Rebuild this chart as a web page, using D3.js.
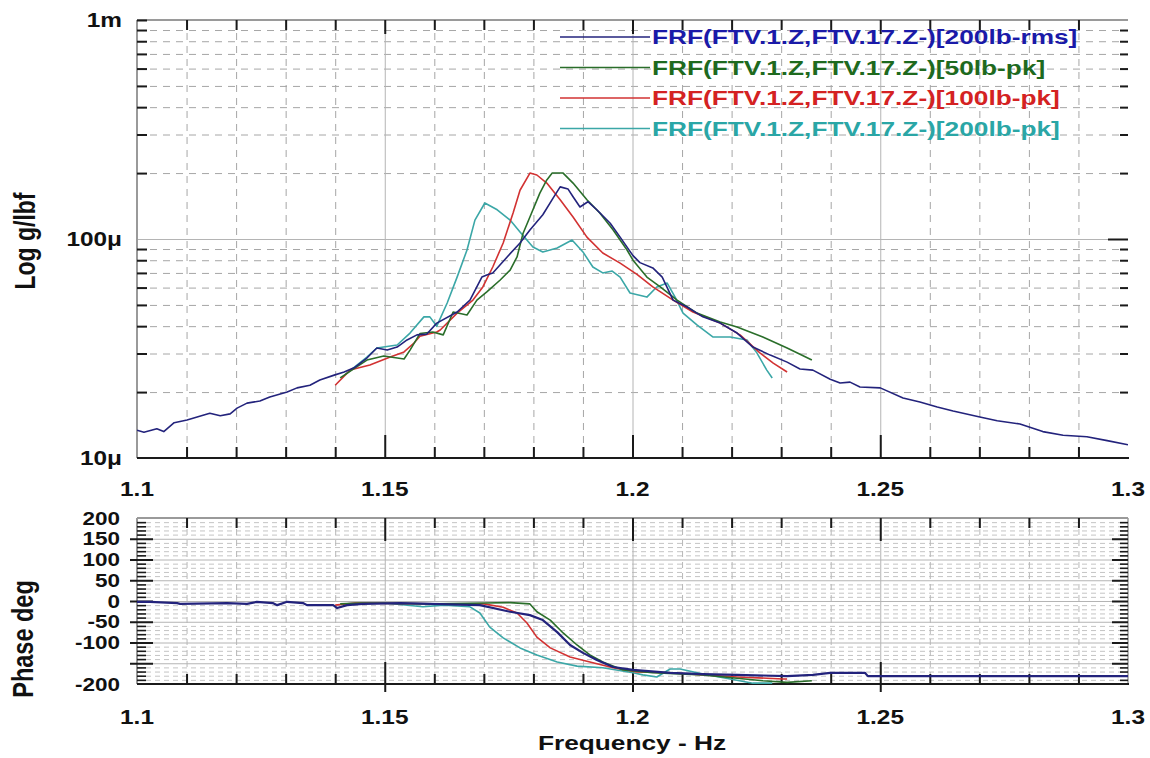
<!DOCTYPE html>
<html>
<head>
<meta charset="utf-8">
<script src="https://cdn.jsdelivr.net/npm/d3@7"></script>
<style>
  body { margin: 0; background: #fff; }
  svg { display: block; }
  text { font-family: "Liberation Sans", Arial, sans-serif; font-weight: bold; fill: #111; }
</style>
</head>
<body>
<svg id="chart" width="1150" height="758"></svg>
<script>
// ---- Series labels and colours ----
const seriesNames = [
  "FRF(FTV.1.Z,FTV.17.Z-)[200lb-rms]",
  "FRF(FTV.1.Z,FTV.17.Z-)[50lb-pk]",
  "FRF(FTV.1.Z,FTV.17.Z-)[100lb-pk]",
  "FRF(FTV.1.Z,FTV.17.Z-)[200lb-pk]"
];
const lineColors = ["#23237c", "#2a6e2a", "#d23232", "#3ba7a7"];
const textColors = ["#1a1aa8", "#1e6a1e", "#d42222", "#2aa6a6"];

// ---- Axis ticks ----
const freqTickValues = [1.1, 1.15, 1.2, 1.25, 1.3];
const freqTickLabels = ["1.1", "1.15", "1.2", "1.25", "1.3"];
const magTickValues = [10, 100, 1000];           // micro g/lbf
const magTickLabels = ["10\u03bc", "100\u03bc", "1m"];
const phaseTickValues = [200, 150, 100, 50, 0, -50, -100, -200];

// ---- Magnitude (micro g/lbf) ----
const magFreqRms200 = [1.1000,1.1014,1.1040,1.1054,1.1075,1.1101,1.1135,1.1147,1.1168,1.1188,1.1202,1.1222,1.1248,1.1268,1.1303,1.1323,1.1349,1.1369,1.1398,1.1418,1.1438,1.1464,1.1484,1.1505,1.1525,1.1545,1.1565,1.1585,1.1605,1.1646,1.1672,1.1696,1.1706,1.1718,1.1747,1.1773,1.1793,1.1819,1.1840,1.1854,1.1870,1.1880,1.1894,1.1910,1.1928,1.1955,1.1975,1.2001,1.2015,1.2041,1.2060,1.2082,1.2110,1.2142,1.2177,1.2211,1.2243,1.2278,1.2312,1.2338,1.2364,1.2399,1.2419,1.2439,1.2459,1.2500,1.2546,1.2580,1.2615,1.2647,1.2701,1.2736,1.2782,1.2828,1.2869,1.2917,1.2958,1.3000];
const magRms200 = [13.4,13.1,13.6,13.2,14.5,14.9,15.7,16.0,15.6,15.9,16.9,17.8,18.2,19.0,20.0,20.9,21.5,22.7,23.9,24.7,25.8,28.6,31.8,31.1,32.1,34.6,36.5,36.8,41.3,46.4,52.6,67.0,68.5,70.0,82.8,95.9,110,129,154,173,169,156,140,148,136,118,102,84,78,73.8,67.0,52.6,48.9,44.1,41.3,37.2,32.1,29.5,27.4,25.5,25.2,22.9,22.0,22.2,21.1,20.9,18.8,18.0,17.1,16.4,15.4,14.8,14.3,13.2,12.7,12.5,12.0,11.5];

const magFreqPk50 = [1.1410,1.1464,1.1498,1.1539,1.1551,1.1571,1.1597,1.1618,1.1638,1.1666,1.1686,1.1706,1.1733,1.1753,1.1767,1.1779,1.1793,1.1813,1.1827,1.1838,1.1860,1.1880,1.1908,1.1934,1.1961,1.1989,1.2001,1.2029,1.2056,1.2090,1.2130,1.2177,1.2211,1.2263,1.2312,1.2362];
const magPk50 = [23.2,28.0,29.2,28.3,31.1,37.0,37.6,36.5,46.4,45.0,52.6,57.3,65.0,72.1,82.8,106,126,162,186,200,200,180,151,131.5,110,89.1,80,67.0,60.4,52.6,45.9,41.8,39.6,35.7,31.8,28.0];

const magFreqPk100 = [1.1400,1.1430,1.1470,1.1511,1.1539,1.1559,1.1571,1.1605,1.1612,1.1646,1.1678,1.1698,1.1718,1.1739,1.1759,1.1773,1.1793,1.1807,1.1827,1.1854,1.1880,1.1908,1.1940,1.1975,1.2009,1.2041,1.2082,1.2122,1.2177,1.2217,1.2257,1.2284,1.2312];
const magPk100 = [21.5,25.2,26.6,28.9,30.5,33.5,36.0,37.6,38.4,45.9,52.6,60.4,74.5,95.9,131.5,167,200,196,180,151,126,102,86.3,77.6,69,60.4,52.6,46.4,41.3,36.5,30.2,27.1,24.7];

const magFreqPk200 = [1.1420,1.1464,1.1484,1.1525,1.1551,1.1579,1.1591,1.1605,1.1626,1.1646,1.1666,1.1682,1.1702,1.1727,1.1753,1.1773,1.1799,1.1819,1.1848,1.1878,1.1900,1.1920,1.1940,1.1959,1.1975,1.1995,1.2029,1.2049,1.2070,1.2086,1.2102,1.2130,1.2162,1.2197,1.2231,1.2251,1.2271,1.2282];
const magPk200 = [24.0,28.9,31.8,32.8,37.2,44.1,44.1,40.0,51.0,67.0,89.1,122,146,136,122,107.6,91.9,87.3,91.0,98.9,87.3,74.5,70.0,71.4,67.0,56.7,54.3,60.4,62.9,54.3,45.9,40.5,35.7,35.7,34.6,30.2,25.2,23.2];

// ---- Phase (deg) ----
const phFreqRms200 = [1.1000,1.1026,1.1081,1.1087,1.1182,1.1222,1.1242,1.1274,1.1283,1.1303,1.1335,1.1343,1.1396,1.1404,1.1424,1.1456,1.1531,1.1692,1.1753,1.1793,1.1819,1.1848,1.1874,1.1900,1.1928,1.1961,1.2001,1.2076,1.2142,1.2211,1.2312,1.2364,1.2399,1.2469,1.2475,1.3000];
const phRms200 = [-2,-2,-5,-7,-5,-7,-2,-5,-10,-2,-5,-10,-10,-17,-10,-7,-5,-10,-26,-34,-46,-75,-106,-125,-142,-159,-166,-173,-176,-178,-181,-178,-173,-173,-181,-181];

const phFreqPk50 = [1.1410,1.1450,1.1600,1.1700,1.1753,1.1793,1.1807,1.1834,1.1860,1.1888,1.1914,1.1940,1.1981,1.2041,1.2142,1.2211,1.2263,1.2312,1.2362];
const phPk50 = [-7,-5,-7,-5,-4,-7,-26,-46,-77,-106,-130,-147,-166,-173,-178,-186,-192,-196,-192];

const phFreqPk100 = [1.1400,1.1440,1.1600,1.1700,1.1739,1.1767,1.1787,1.1807,1.1834,1.1874,1.1914,1.1961,1.2009,1.2076,1.2142,1.2211,1.2304,1.2312];
const phPk100 = [-10,-5,-7,-7,-15,-29,-53,-87,-113,-135,-147,-161,-171,-173,-178,-183,-188,-188];

const phFreqPk200 = [1.1420,1.1500,1.1577,1.1620,1.1672,1.1692,1.1712,1.1739,1.1773,1.1807,1.1848,1.1888,1.1940,1.2001,1.2021,1.2049,1.2076,1.2096,1.2142,1.2197,1.2243,1.2282];
const phPk200 = [-7,-5,-14,-10,-14,-29,-63,-89,-113,-130,-147,-157,-161,-173,-178,-183,-164,-164,-176,-188,-198,-198];

// ---- Layout ----
const svg = d3.select("#chart");
const X0 = 137, X1 = 1128;
const MAG_TOP = 20, MAG_BOT = 458;
const PH_TOP = 518, PH_BOT = 684;
const SX = 1.25; // horizontal text stretch

const x = d3.scaleLinear().domain([1.1, 1.3]).range([X0, X1]);
const yMag = d3.scaleLog().domain([10, 1000]).range([MAG_BOT, MAG_TOP]);
const yPh = d3.scaleLinear().domain([-200, 200]).range([PH_BOT, PH_TOP]);

const freqMinor = d3.range(110, 131).map(i => i / 100).filter(f => Math.round(f * 100) % 5 !== 0);
const magMinor = [1, 2].flatMap(n => d3.range(2, 10).map(k => k * Math.pow(10, n)));
const phMinor = d3.range(-190, 200, 10).filter(v => v % 50 !== 0);
const phMajor = d3.range(-150, 200, 50);
const freqMajorInner = [1.15, 1.2, 1.25];

function gridLines(axis, tx, ty, size, color, dash) {
  const g = svg.append("g").attr("transform", `translate(${tx},${ty})`)
    .call(axis.tickSize(size).tickFormat(""));
  g.select(".domain").remove();
  g.selectAll("line").attr("stroke", color).attr("stroke-width", 1)
    .attr("stroke-dasharray", dash || null);
}
function tickMarks(axis, tx, ty, size, width) {
  const g = svg.append("g").attr("transform", `translate(${tx},${ty})`)
    .call(axis.tickSize(size).tickFormat(""));
  g.select(".domain").remove();
  g.selectAll("line").attr("stroke", "#1a1a1a").attr("stroke-width", width || 2);
}
function stretchedText(x0, y0, str, size, anchor, rotate, color) {
  svg.append("text")
    .attr("transform", `translate(${x0},${y0}) scale(${SX},1)` + (rotate ? " rotate(-90)" : ""))
    .attr("text-anchor", anchor)
    .style("font-size", size + "px")
    .style("fill", color || "#111")
    .text(str);
}

// ---- Magnitude panel grid ----
gridLines(d3.axisBottom(x).tickValues(freqMinor), 0, MAG_TOP, MAG_BOT - MAG_TOP, "#a6a6a6", "7,6");
gridLines(d3.axisRight(yMag).tickValues(magMinor), X0, 0, X1 - X0, "#a6a6a6", "7,6");
gridLines(d3.axisBottom(x).tickValues(freqMajorInner), 0, MAG_TOP, MAG_BOT - MAG_TOP, "#b4b4b4");
gridLines(d3.axisRight(yMag).tickValues([100]), X0, 0, X1 - X0, "#b4b4b4");

// ---- Phase panel grid ----
gridLines(d3.axisRight(yPh).tickValues(phMinor), X0, 0, X1 - X0, "#c4c4c4", "5,4");
gridLines(d3.axisBottom(x).tickValues(freqMinor), 0, PH_TOP, PH_BOT - PH_TOP, "#b8b8b8", "6,5");
gridLines(d3.axisRight(yPh).tickValues(phMajor), X0, 0, X1 - X0, "#b4b4b4");
gridLines(d3.axisBottom(x).tickValues(freqMajorInner), 0, PH_TOP, PH_BOT - PH_TOP, "#b4b4b4");

// ---- Frames ----
function frame(top, bot, rightSpine) {
  svg.append("line").attr("x1", X0).attr("x2", X1).attr("y1", top).attr("y2", top)
    .attr("stroke", "#9a9a9a").attr("stroke-width", 2);
  svg.append("line").attr("x1", X0).attr("x2", X0).attr("y1", top).attr("y2", bot)
    .attr("stroke", "#9a9a9a").attr("stroke-width", 2);
  if (rightSpine) svg.append("line").attr("x1", X1).attr("x2", X1).attr("y1", top).attr("y2", bot)
    .attr("stroke", "#9a9a9a").attr("stroke-width", 1.5);
  svg.append("line").attr("x1", X0).attr("x2", X1 + 1).attr("y1", bot).attr("y2", bot)
    .attr("stroke", "#1a1a1a").attr("stroke-width", 2);
}
frame(MAG_TOP, MAG_BOT, false);
frame(PH_TOP, PH_BOT, true);

// ---- Tick marks: magnitude ----
tickMarks(d3.axisBottom(x).tickValues(freqMinor), 0, MAG_TOP, 10);
tickMarks(d3.axisBottom(x).tickValues(freqMajorInner), 0, MAG_TOP, 14);
tickMarks(d3.axisTop(x).tickValues(freqMinor), 0, MAG_BOT, 11);
tickMarks(d3.axisTop(x).tickValues(freqMajorInner), 0, MAG_BOT, 23);
tickMarks(d3.axisRight(yMag).tickValues(magMinor.concat([1000])), X0, 0, 10);
tickMarks(d3.axisLeft(yMag).tickValues(magMinor), X1, 0, 8);
tickMarks(d3.axisLeft(yMag).tickValues([100]), X1, 0, 20);

// ---- Tick marks: phase ----
tickMarks(d3.axisBottom(x).tickValues(freqMinor), 0, PH_TOP, 10);
tickMarks(d3.axisBottom(x).tickValues(freqMajorInner), 0, PH_TOP, 23);
tickMarks(d3.axisTop(x).tickValues(freqMinor), 0, PH_BOT, 10);
tickMarks(d3.axisTop(x).tickValues(freqMajorInner), 0, PH_BOT + 8, 30);
tickMarks(d3.axisRight(yPh).tickValues(phMinor), X0, 0, 9, 1.6);
tickMarks(d3.axisRight(yPh).tickValues(phMajor), X0 - 7, 0, 23);
tickMarks(d3.axisLeft(yPh).tickValues(phMinor), X1, 0, 8, 1.6);
tickMarks(d3.axisLeft(yPh).tickValues(phMajor), X1, 0, 16);

// ---- Curves ----
const magSeries = [
  [magFreqRms200, magRms200], [magFreqPk50, magPk50],
  [magFreqPk100, magPk100], [magFreqPk200, magPk200]
];
const phSeries = [
  [phFreqRms200, phRms200], [phFreqPk50, phPk50],
  [phFreqPk100, phPk100], [phFreqPk200, phPk200]
];
const magLine = d3.line().x(d => x(d[0])).y(d => yMag(d[1]));
const phLine = d3.line().x(d => x(d[0])).y(d => yPh(d[1]));
const drawOrder = [3, 2, 1, 0];

svg.append("clipPath").attr("id", "clipMag").append("rect")
  .attr("x", X0).attr("y", MAG_TOP).attr("width", X1 - X0).attr("height", MAG_BOT - MAG_TOP);
svg.append("clipPath").attr("id", "clipPh").append("rect")
  .attr("x", X0).attr("y", PH_TOP).attr("width", X1 - X0).attr("height", PH_BOT - PH_TOP);

const gMag = svg.append("g").attr("clip-path", "url(#clipMag)");
const gPh = svg.append("g").attr("clip-path", "url(#clipPh)");
drawOrder.forEach(i => {
  const [fs, vs] = magSeries[i];
  gMag.append("path").datum(fs.map((f, k) => [f, vs[k]]))
    .attr("d", magLine).attr("fill", "none")
    .attr("stroke", lineColors[i]).attr("stroke-width", 1.6).attr("stroke-linejoin", "round");
  const [pf, pv] = phSeries[i];
  gPh.append("path").datum(pf.map((f, k) => [f, pv[k]]))
    .attr("d", phLine).attr("fill", "none")
    .attr("stroke", lineColors[i]).attr("stroke-width", i === 0 ? 2.2 : 1.6).attr("stroke-linejoin", "round");
});

// ---- Legend ----
seriesNames.forEach((name, i) => {
  const ly = 37 + i * 30.5;
  svg.append("line").attr("x1", 560).attr("x2", 650).attr("y1", ly).attr("y2", ly)
    .attr("stroke", lineColors[i]).attr("stroke-width", 1.6);
  stretchedText(652, ly + 7, name, 21, "start", false, textColors[i]);
});

// ---- Tick labels ----
magTickValues.forEach((v, i) => stretchedText(122, yMag(v) + 7, magTickLabels[i], 19.5, "end"));
phaseTickValues.forEach(v => stretchedText(120, yPh(v) + 6.5, String(v), 18, "end"));
freqTickValues.forEach((f, i) => {
  stretchedText(x(f), 496, freqTickLabels[i], 19.5, "middle");
  stretchedText(x(f), 724, freqTickLabels[i], 19.5, "middle");
});

// ---- Axis titles ----
stretchedText(35, 241, "Log g/lbf", 23, "middle", true);
stretchedText(33, 639, "Phase deg", 23.5, "middle", true);
stretchedText(632, 750, "Frequency - Hz", 21, "middle");
</script>
</body>
</html>
